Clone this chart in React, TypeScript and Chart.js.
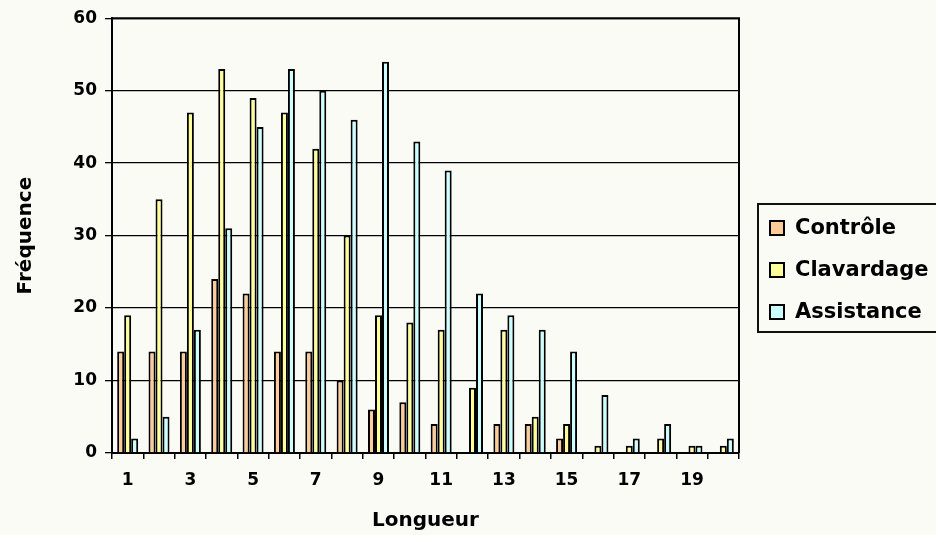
import React, { useEffect, useRef } from "react";
import { Chart, registerables } from "chart.js";

Chart.register(...registerables);

// Longueur categories (1..20)
const categories = ["1", "2", "3", "4", "5", "6", "7", "8", "9", "10", "11", "12", "13", "14", "15", "16", "17", "18", "19", "20"];

// Fréquence per condition
const controle = [14, 14, 14, 24, 22, 14, 14, 10, 6, 7, 4, 0, 4, 4, 2, 0, 0, 0, 0, 0];
const clavardage = [19, 35, 47, 53, 49, 47, 42, 30, 19, 18, 17, 9, 17, 5, 4, 1, 1, 2, 1, 1];
const assistance = [2, 5, 17, 31, 45, 53, 50, 46, 54, 43, 39, 22, 19, 17, 14, 8, 2, 4, 1, 2];

const seriesNames = ["Contrôle", "Clavardage", "Assistance"];
const seriesColors = ["#FFCC99", "#FFFF99", "#CCFFFF"];

const yTicks = [0, 10, 20, 30, 40, 50, 60];

const FONT = "'DejaVu Sans', Verdana, sans-serif";
const BG = "#FBFBF6";

// paints the page colour behind everything
const backgroundPlugin = {
  id: "pageBackground",
  beforeDraw(chart: any) {
    const { ctx, width, height } = chart;
    ctx.save();
    ctx.fillStyle = BG;
    ctx.fillRect(0, 0, width, height);
    ctx.restore();
  },
};

// closes the plot frame (top and right edges)
const frameplugin = {
  id: "plotFrame",
  afterDraw(chart: any) {
    const { ctx, chartArea } = chart;
    ctx.save();
    ctx.strokeStyle = "#000";
    ctx.lineWidth = 2;
    ctx.beginPath();
    ctx.moveTo(chartArea.left, chartArea.top);
    ctx.lineTo(chartArea.right, chartArea.top);
    ctx.lineTo(chartArea.right, chartArea.bottom);
    ctx.stroke();
    ctx.restore();
  },
};

// boxed legend to the right of the plot
const boxedLegendPlugin = {
  id: "boxedLegend",
  afterDraw(chart: any) {
    const { ctx } = chart;
    const boxLeft = 758;
    const boxTop = 204;
    const boxBottom = 332;
    const rowY = [228, 270, 312];
    ctx.save();
    ctx.strokeStyle = "#111";
    ctx.lineWidth = 2;
    ctx.strokeRect(boxLeft, boxTop, 200, boxBottom - boxTop);
    ctx.font = `bold 21px ${FONT}`;
    ctx.textBaseline = "middle";
    ctx.textAlign = "left";
    chart.data.datasets.forEach((ds: any, i: number) => {
      const y = rowY[i];
      ctx.fillStyle = ds.backgroundColor;
      ctx.fillRect(770, y - 7, 14, 14);
      ctx.lineWidth = 2;
      ctx.strokeStyle = "#000";
      ctx.strokeRect(770, y - 7, 14, 14);
      ctx.fillStyle = "#000";
      ctx.fillText(ds.label, 795, y + 1);
    });
    ctx.restore();
  },
};

export default function App() {
  const canvasRef = useRef<HTMLCanvasElement | null>(null);

  useEffect(() => {
    document.body.style.margin = "0";
    document.body.style.background = BG;
    const canvas = canvasRef.current;
    if (!canvas) return;
    const values = [controle, clavardage, assistance];
    const chart = new Chart(canvas, {
      type: "bar",
      data: {
        labels: categories,
        datasets: values.map((v, i) => ({
          label: seriesNames[i],
          data: v,
          backgroundColor: seriesColors[i],
          borderColor: "#000",
          borderWidth: 2,
          categoryPercentage: 0.67,
          barPercentage: 1,
        })),
      },
      options: {
        animation: false,
        responsive: true,
        maintainAspectRatio: false,
        events: [],
        layout: { padding: { left: 0, right: 197, top: 16, bottom: 0 } },
        plugins: {
          legend: { display: false },
          tooltip: { enabled: false },
        },
        scales: {
          x: {
            type: "category",
            afterFit(scale: any) {
              scale.height = 82;
            },
            grid: {
              offset: true,
              drawOnChartArea: false,
              drawTicks: true,
              tickLength: 6,
              color: "#000",
              lineWidth: 1.5,
            },
            border: { color: "#000", width: 2 },
            ticks: {
              autoSkip: false,
              maxRotation: 0,
              minRotation: 0,
              padding: 11,
              color: "#000",
              font: { family: FONT, size: 17, weight: "bold" },
              callback: (_v: any, i: number) => (i % 2 === 0 ? categories[i] : ""),
            },
            title: {
              display: true,
              text: "Longueur",
              color: "#000",
              font: { family: FONT, size: 20, weight: "bold" },
              padding: { top: 0, bottom: 2 },
            },
          },
          y: {
            min: yTicks[0],
            max: yTicks[yTicks.length - 1],
            afterFit(scale: any) {
              scale.width = 112;
            },
            afterBuildTicks(scale: any) {
              scale.ticks = yTicks.map((v) => ({ value: v }));
            },
            grid: {
              color: "#000",
              lineWidth: 1.3,
              tickLength: 7,
            },
            border: { color: "#000", width: 2 },
            ticks: {
              padding: 8,
              color: "#000",
              font: { family: FONT, size: 17, weight: "bold" },
            },
            title: {
              display: true,
              text: "Fréquence",
              color: "#000",
              font: { family: FONT, size: 20, weight: "bold" },
              padding: { top: 14, bottom: 0 },
            },
          },
        },
      },
      plugins: [backgroundPlugin, frameplugin, boxedLegendPlugin],
    } as any);
    return () => chart.destroy();
  }, []);

  return (
    <div style={{ position: "absolute", left: 0, top: 0, width: 936, height: 535 }}>
      <canvas ref={canvasRef} />
    </div>
  );
}
